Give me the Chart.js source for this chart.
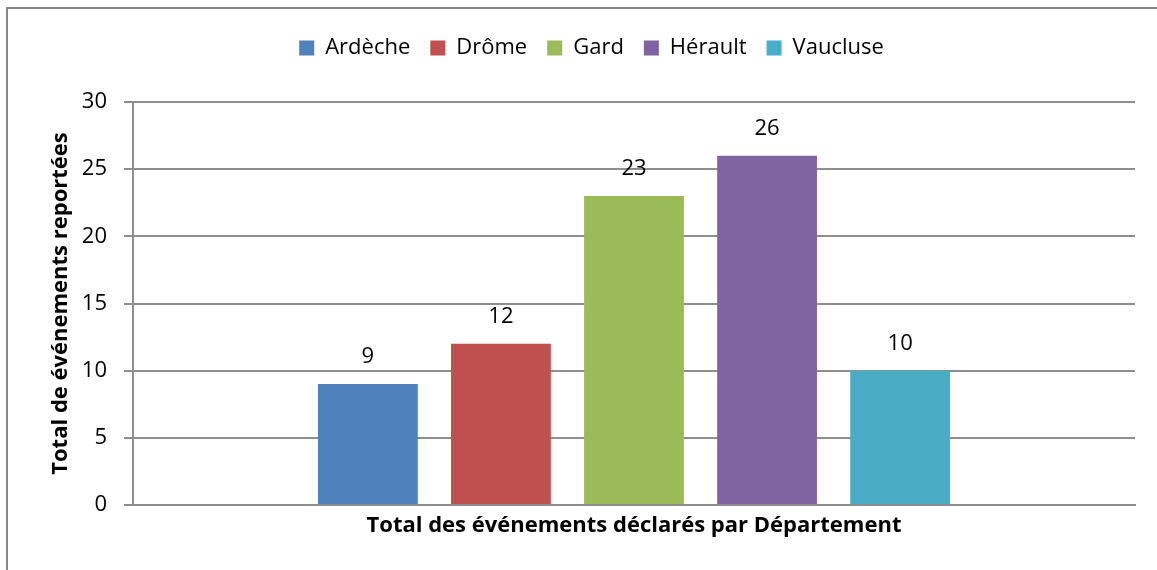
<!DOCTYPE html>
<html>
<head>
<meta charset="utf-8">
<script src="https://cdn.jsdelivr.net/npm/chart.js@4/dist/chart.umd.min.js"></script>
<style>
  html, body { margin: 0; padding: 0; background: #fff; }
  #wrap { width: 1157px; height: 570px; position: relative; }
</style>
</head>
<body>
<div id="wrap"><canvas id="c" width="1157" height="570"></canvas></div>
<script>
const categories = [''];
const seriesNames = ['Ardèche', 'Drôme', 'Gard', 'Hérault', 'Vaucluse'];
const seriesValues = [[9], [12], [23], [26], [10]];
const seriesColors = ['#4F81BD', '#C0504D', '#9BBB59', '#8064A2', '#4BACC6'];
const yTicks = [0, 5, 10, 15, 20, 25, 30];
const xTitle = 'Total des événements déclarés par Département';
const yTitle = 'Total de événements reportées';

const FONT = '"Open Sans", Lato, sans-serif';
const FS = 22;
const GRID = '#8e8e8e';
const PAD_TOP = 17;
const LEGEND_H = 85;

const frame = {
  id: 'frame',
  beforeLayout(chart) {
    const lg = chart.legend;
    if (lg && !lg._patched) {
      const orig = lg.fit;
      lg.fit = function () { orig.call(this); this.height = LEGEND_H; };
      lg._patched = true;
    }
  },
  beforeDraw(chart) {
    const ctx = chart.ctx;
    ctx.save();
    ctx.fillStyle = '#fff';
    ctx.fillRect(0, 0, chart.width, chart.height);
    ctx.strokeStyle = '#888888';
    ctx.lineWidth = 2;
    ctx.beginPath();
    ctx.moveTo(7, chart.height + 5);
    ctx.lineTo(7, 8);
    ctx.lineTo(chart.width + 5, 8);
    ctx.stroke();
    ctx.restore();
  }
};

const valueLabels = {
  id: 'valueLabels',
  afterDatasetsDraw(chart) {
    const ctx = chart.ctx;
    ctx.save();
    ctx.font = FS + 'px ' + FONT;
    ctx.fillStyle = '#000';
    ctx.textAlign = 'center';
    ctx.textBaseline = 'middle';
    chart.data.datasets.forEach((ds, i) => {
      const meta = chart.getDatasetMeta(i);
      meta.data.forEach((bar, j) => {
        ctx.fillText(String(ds.data[j]), bar.x, bar.y - 27);
      });
    });
    ctx.restore();
  }
};

new Chart(document.getElementById('c'), {
  type: 'bar',
  data: {
    labels: categories,
    datasets: seriesNames.map((n, i) => ({
      label: n,
      data: seriesValues[i],
      backgroundColor: seriesColors[i],
      borderWidth: 0,
      categoryPercentage: 0.664,
      barPercentage: 0.75
    }))
  },
  options: {
    responsive: false,
    animation: false,
    devicePixelRatio: 1,
    layout: { padding: { left: 48, right: 22, top: PAD_TOP, bottom: 31 } },
    plugins: {
      tooltip: { enabled: false },
      legend: {
        position: 'top',
        labels: {
          font: { family: FONT, size: FS },
          color: '#000',
          boxWidth: 15,
          boxHeight: 15,
          padding: 20
        }
      }
    },
    scales: {
      x: {
        grid: { display: false },
        border: { display: true, color: GRID, width: 2 },
        ticks: { display: false },
        title: {
          display: true,
          text: xTitle,
          color: '#000',
          font: { family: FONT, size: FS, weight: 'bold' },
          padding: 0
        },
        afterFit(scale) { scale.height = 34; }
      },
      y: {
        min: 0,
        max: 30,
        afterBuildTicks(scale) { scale.ticks = yTicks.map(v => ({ value: v })); },
        grid: { color: GRID, lineWidth: 2, tickLength: 9, drawTicks: true },
        border: { display: true, color: GRID, width: 2 },
        ticks: {
          color: '#000',
          font: { family: FONT, size: FS },
          padding: 17
        },
        title: {
          display: true,
          text: yTitle,
          color: '#000',
          font: { family: FONT, size: FS, weight: 'bold' },
          padding: 0
        },
        afterFit(scale) { scale.width = 85; }
      }
    }
  },
  plugins: [frame, valueLabels]
});
</script>
</body>
</html>
